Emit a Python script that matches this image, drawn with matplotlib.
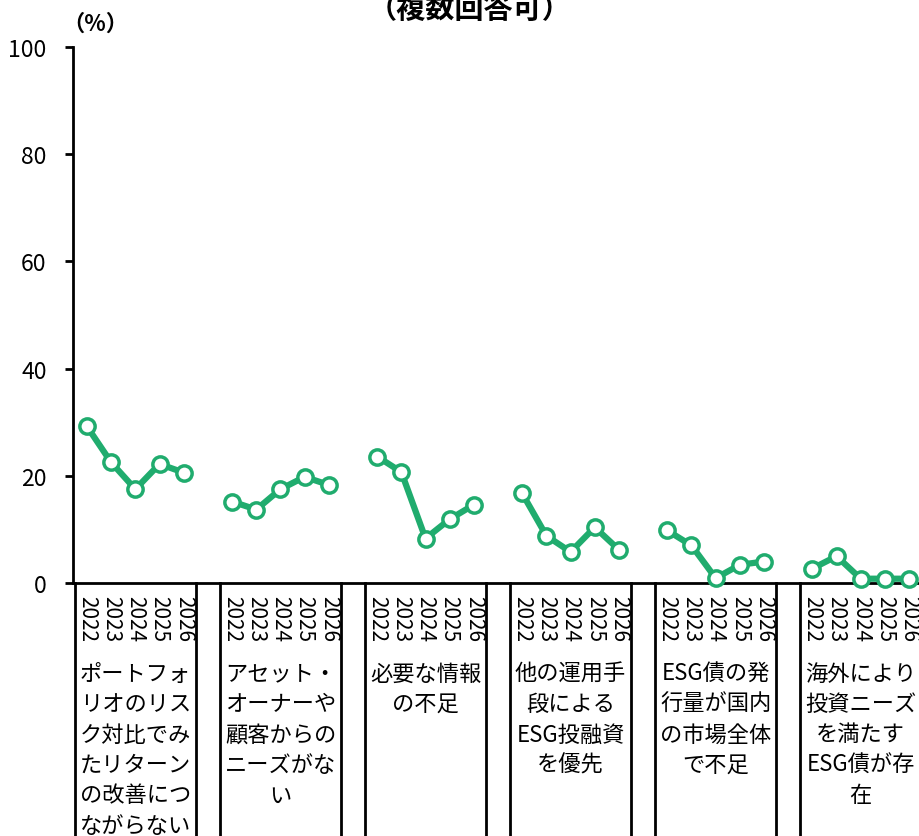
import matplotlib
matplotlib.use("Agg")
import matplotlib.pyplot as plt
from matplotlib.transforms import blended_transform_factory

plt.rcParams['font.family'] = ['Noto Sans CJK JP', 'DejaVu Sans']

# ---- data ----
years = ["2022", "2023", "2024", "2025", "2026"]
categories = [
    "ポートフォ\nリオのリス\nク対比でみ\nたリターン\nの改善につ\nながらない",
    "アセット・\nオーナーや\n顧客からの\nニーズがな\nい",
    "必要な情報\nの不足",
    "他の運用手\n段による\nESG投融資\nを優先",
    "ESG債の発\n行量が国内\nの市場全体\nで不足",
    "海外により\n投資ニーズ\nを満たす\nESG債が存\n在",
]
values = [
    [29.2, 22.5, 17.5, 22.2, 20.6],
    [15.2, 13.7, 17.5, 19.8, 18.3],
    [23.6, 20.7, 8.3, 11.9, 14.6],
    [16.7, 8.8, 5.8, 10.4, 6.2],
    [9.8, 7.0, 0.9, 3.4, 4.0],
    [2.7, 5.0, 0.8, 0.8, 0.8],
]
yticks = [0, 20, 40, 60, 80, 100]
title = "（複数回答可）"
unit = "（%）"

GREEN = "#20AC6E"
W, H = 919, 837

fig = plt.figure(figsize=(W / 100, H / 100), dpi=100)
ax = fig.add_axes([73 / W, (H - 584) / H, 1 - 73 / W, (584 - 48) / H])

slot = 24.18
left = -(87 - 73) / slot
ax.set_xlim(left, left + (W - 73) / slot)
ax.set_ylim(0, 100)

for g, vals in enumerate(values):
    xs = [g * 6 + j for j in range(len(vals))]
    ax.plot(xs, vals, color=GREEN, lw=4.5, marker="o", markersize=11,
            markerfacecolor="white", markeredgecolor=GREEN, markeredgewidth=2.5,
            clip_on=False, zorder=5)

for s in ["top", "right"]:
    ax.spines[s].set_visible(False)
for s in ["left", "bottom"]:
    ax.spines[s].set_linewidth(2)
    ax.spines[s].set_color("black")

ax.set_xticks([])
ax.set_yticks(yticks)
ax.set_yticklabels([str(v) for v in yticks], fontsize=16.5)
ax.tick_params(axis="y", length=6, width=2, pad=13)

trans = blended_transform_factory(ax.transData, fig.transFigure)
def fy(py):
    return (H - py) / H

for g, cat in enumerate(categories):
    xl = g * 6 - 0.5
    xr = g * 6 + 4.5
    for xv in (xl, xr):
        ax.plot([xv, xv], [fy(584), fy(H + 20)], transform=trans, color="black",
                lw=2, clip_on=False)
    for j, yr in enumerate(years):
        ax.text(g * 6 + j, fy(596), yr, transform=trans, rotation=-90,
                ha="center", va="top", fontsize=15)
    for k, line in enumerate(cat.split("\n")):
        ax.text(g * 6 + 2, fy(674 + 30.5 * k), line, transform=trans,
                ha="center", va="center", fontsize=16)

fig.text(470 / W, fy(9), title, ha="center", va="center", fontsize=21,
         fontweight="bold")
fig.text(95 / W, fy(24), unit, ha="center", va="center", fontsize=16,
         fontweight="bold")

fig.savefig("out.png", dpi=100)
